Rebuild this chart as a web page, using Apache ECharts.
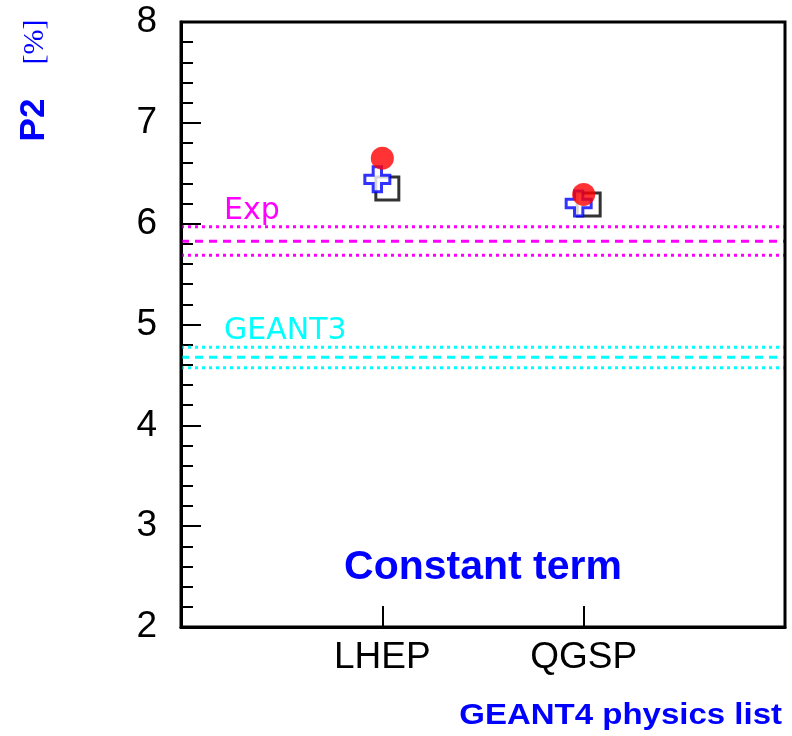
<!DOCTYPE html>
<html>
<head>
<meta charset="utf-8">
<script src="https://cdn.jsdelivr.net/npm/echarts@6/dist/echarts.min.js"></script>
<style>html,body{margin:0;padding:0;background:#fff;}#c{width:792px;height:736px;}</style>
</head>
<body>
<div id="c"></div>
<script>
var categories = ['LHEP', 'QGSP'];
var dataRed = [6.65, 6.29];
var dataBlue = [6.44, 6.20];
var dataBlack = [6.35, 6.19];
var expBand = [5.97, 5.825, 5.686];
var geant3Band = [4.775, 4.676, 4.57];
var yTicks = [2, 3, 4, 5, 6, 7, 8];

function pts(vals) { return vals.map(function (v, i) { return [i + 1, v]; }); }
function hline(v) { return [[0, v], [3, v]]; }

var crossPath = 'path://M1,0L2,0L2,1L3,1L3,2L2,2L2,3L1,3L1,2L0,2L0,1L1,1Z';

function bandSeries(band, color) {
  return band.map(function (v, i) {
    return {
      type: 'line', data: hline(v), symbol: 'none', silent: true, z: 1,
      lineStyle: { color: color, width: 3, type: i === 1 ? [8, 6] : [3, 4] }
    };
  });
}

var chart = echarts.init(document.getElementById('c'));
chart.setOption({
  animation: false,
  backgroundColor: '#fff',
  grid: { left: 181, top: 22, right: 7, bottom: 109, show: true, borderColor: '#000', borderWidth: 3, backgroundColor: 'transparent', z: 10 },
  xAxis: {
    type: 'value', min: 0, max: 3, interval: 1,
    axisLine: { show: true, lineStyle: { color: '#000', width: 3 } },
    axisTick: { show: true, inside: true, length: 21, lineStyle: { color: '#000', width: 2 } },
    splitLine: { show: false },
    axisLabel: {
      margin: 12, color: '#000', fontSize: 37, fontFamily: 'Liberation Sans, Arial, sans-serif',
      formatter: function (v) { return categories[v - 1] || ''; }
    }
  },
  yAxis: {
    type: 'value', min: yTicks[0], max: yTicks[yTicks.length - 1], interval: 1,
    axisLine: { show: true, lineStyle: { color: '#000', width: 3 } },
    axisTick: { show: true, inside: true, length: 20, lineStyle: { color: '#000', width: 2 } },
    minorTick: { show: true, splitNumber: 5, length: 12, lineStyle: { color: '#000', width: 2 } },
    splitLine: { show: false },
    axisLabel: { margin: 24, color: '#000', fontSize: 37, fontFamily: 'Liberation Sans, Arial, sans-serif' }
  },
  series: [].concat(bandSeries(expBand, '#ff00ff'), bandSeries(geant3Band, '#00ffff'), [
    {
      type: 'scatter', data: pts(dataBlack), symbol: 'rect', symbolSize: 23, symbolOffset: [5, 0], z: 3,
      itemStyle: { color: '#fff', borderColor: '#000', borderWidth: 3 }
    },
    {
      type: 'scatter', data: pts(dataBlue), symbol: crossPath, symbolSize: 25, symbolOffset: [-5, 0], z: 4,
      itemStyle: { color: '#fff', borderColor: '#0000ff', borderWidth: 3 }
    },
    {
      type: 'scatter', data: pts(dataRed), symbol: 'circle', symbolSize: 23, z: 5,
      itemStyle: { color: '#ff0000' }
    }
  ]),
  graphic: [
    { type: 'text', x: 224, y: 211, style: { text: 'Exp', fill: '#ff00ff', font: '30px "DejaVu Sans", sans-serif', verticalAlign: 'middle' } },
    { type: 'text', x: 224, y: 331, style: { text: 'GEANT3', fill: '#00ffff', font: '30px "DejaVu Sans", sans-serif', verticalAlign: 'middle' } },
    { type: 'text', x: 483, y: 568, style: { text: 'Constant term', fill: '#0000ff', font: 'bold 41px "Liberation Sans", Arial, sans-serif', align: 'center', verticalAlign: 'middle' } },
    { type: 'text', x: 782, y: 716, scaleX: 1.1, style: { text: 'GEANT4 physics list', fill: '#0000ff', font: 'bold 30px "Liberation Sans", Arial, sans-serif', align: 'right', verticalAlign: 'middle' } },
    { type: 'text', x: 34, y: 120, rotation: Math.PI / 2, style: { text: 'P2', fill: '#0000ff', font: 'bold 35px "Liberation Sans", Arial, sans-serif', align: 'center', verticalAlign: 'middle' } },
    { type: 'text', x: 35, y: 42, rotation: Math.PI / 2, style: { text: '[%]', fill: '#0000ff', font: '30px "Liberation Serif", serif', align: 'center', verticalAlign: 'middle' } }
  ]
});
</script>
</body>
</html>
